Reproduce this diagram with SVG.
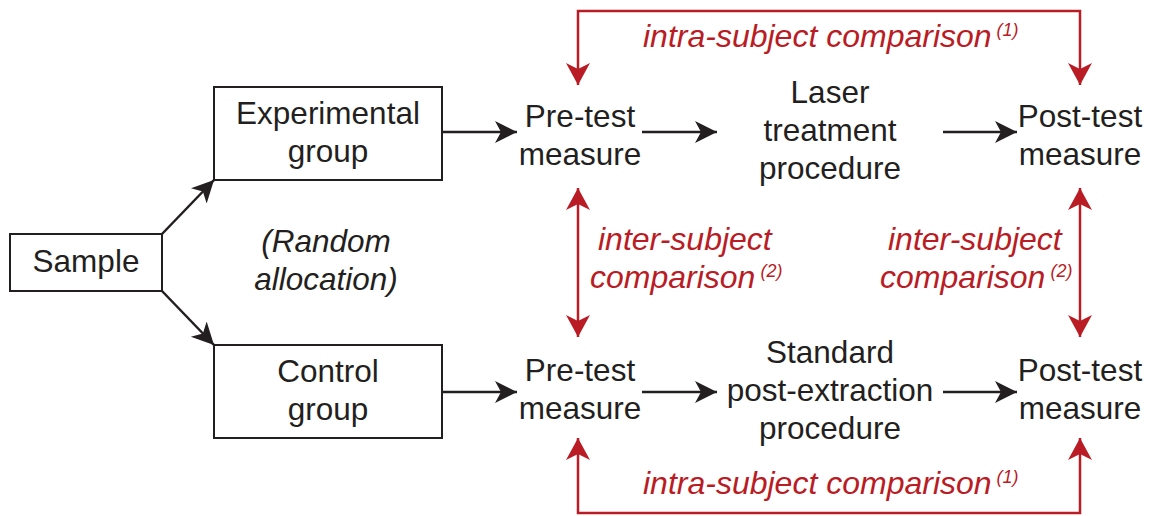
<svg xmlns="http://www.w3.org/2000/svg" width="1155" height="516" viewBox="0 0 1155 516">
<style>
.t{font-family:"Liberation Sans",Arial,sans-serif;font-size:31.5px;fill:#231f20;text-anchor:middle}
.it{font-style:italic}
.r{font-family:"Liberation Sans",Arial,sans-serif;font-size:32px;font-style:italic;fill:#b91c24}
.sup{font-size:18px}
.box{fill:#fff;stroke:#231f20;stroke-width:2}
.k{fill:none;stroke:#231f20;stroke-width:2.5}
.rl{fill:none;stroke:#b91c24;stroke-width:2.5}
</style>
<defs>
<marker id="ak" markerUnits="userSpaceOnUse" markerWidth="24" markerHeight="24" refX="22" refY="11" orient="auto-start-reverse" viewBox="0 0 24 24"><path d="M0,0 L22,11 L0,22 L6,11 z" fill="#231f20"/></marker>
<marker id="ar" markerUnits="userSpaceOnUse" markerWidth="26" markerHeight="26" refX="22" refY="12" orient="auto-start-reverse" viewBox="0 0 26 26"><path d="M0,0 L22,12 L0,24 L6,12 z" fill="#b91c24"/></marker>
</defs>
<rect width="1155" height="516" fill="#fff"/>
<g id="connectors">
<line class="k" x1="162" y1="234" x2="214" y2="180" marker-end="url(#ak)"/>
<line class="k" x1="162" y1="291" x2="214" y2="345" marker-end="url(#ak)"/>
<line class="k" x1="442" y1="132" x2="517" y2="132" marker-end="url(#ak)"/>
<line class="k" x1="642" y1="132" x2="717" y2="132" marker-end="url(#ak)"/>
<line class="k" x1="943" y1="132" x2="1017" y2="132" marker-end="url(#ak)"/>
<line class="k" x1="442" y1="392" x2="517" y2="392" marker-end="url(#ak)"/>
<line class="k" x1="642" y1="392" x2="717" y2="392" marker-end="url(#ak)"/>
<line class="k" x1="943" y1="392" x2="1017" y2="392" marker-end="url(#ak)"/>
<path class="rl" d="M578,85 L578,11 L1080,11 L1080,85" marker-start="url(#ar)" marker-end="url(#ar)"/>
<path class="rl" d="M578,438 L578,513 L1080,513 L1080,438" marker-start="url(#ar)" marker-end="url(#ar)"/>
<line class="rl" x1="578" y1="188" x2="578" y2="337" marker-start="url(#ar)" marker-end="url(#ar)"/>
<line class="rl" x1="1080" y1="188" x2="1080" y2="337" marker-start="url(#ar)" marker-end="url(#ar)"/>
</g>
<g id="sample"><rect class="box" x="10" y="234" width="152" height="57"/><text class="t" x="86" y="272">Sample</text></g>
<g id="experimental"><rect class="box" x="214" y="87" width="228" height="93"/><text class="t" x="328" y="124">Experimental</text><text class="t" x="328" y="162">group</text></g>
<g id="control"><rect class="box" x="214" y="345" width="228" height="93"/><text class="t" x="328" y="382">Control</text><text class="t" x="328" y="420">group</text></g>
<g id="random"><text class="t it" x="326" y="252">(Random</text><text class="t it" x="326" y="290">allocation)</text></g>
<g id="pre-top"><text class="t" x="580" y="127">Pre-test</text><text class="t" x="580" y="165">measure</text></g>
<g id="laser"><text class="t" x="830" y="103">Laser</text><text class="t" x="830" y="141">treatment</text><text class="t" x="830" y="179">procedure</text></g>
<g id="post-top"><text class="t" x="1080" y="127">Post-test</text><text class="t" x="1080" y="165">measure</text></g>
<g id="pre-bottom"><text class="t" x="580" y="381">Pre-test</text><text class="t" x="580" y="419">measure</text></g>
<g id="standard"><text class="t" x="830" y="363">Standard</text><text class="t" x="830" y="401">post-extraction</text><text class="t" x="830" y="439">procedure</text></g>
<g id="post-bottom"><text class="t" x="1080" y="381">Post-test</text><text class="t" x="1080" y="419">measure</text></g>
<g id="intra-top"><text class="r" x="643" y="47">intra-subject comparison<tspan class="sup" dx="5" dy="-11">(1)</tspan></text></g>
<g id="intra-bottom"><text class="r" x="643" y="494">intra-subject comparison<tspan class="sup" dx="5" dy="-11">(1)</tspan></text></g>
<g id="inter-left"><text class="r" x="598" y="250">inter-subject</text><text class="r" x="590" y="288">comparison<tspan class="sup" dx="5" dy="-11">(2)</tspan></text></g>
<g id="inter-right"><text class="r" x="888" y="250">inter-subject</text><text class="r" x="880" y="288">comparison<tspan class="sup" dx="5" dy="-11">(2)</tspan></text></g>
</svg>
